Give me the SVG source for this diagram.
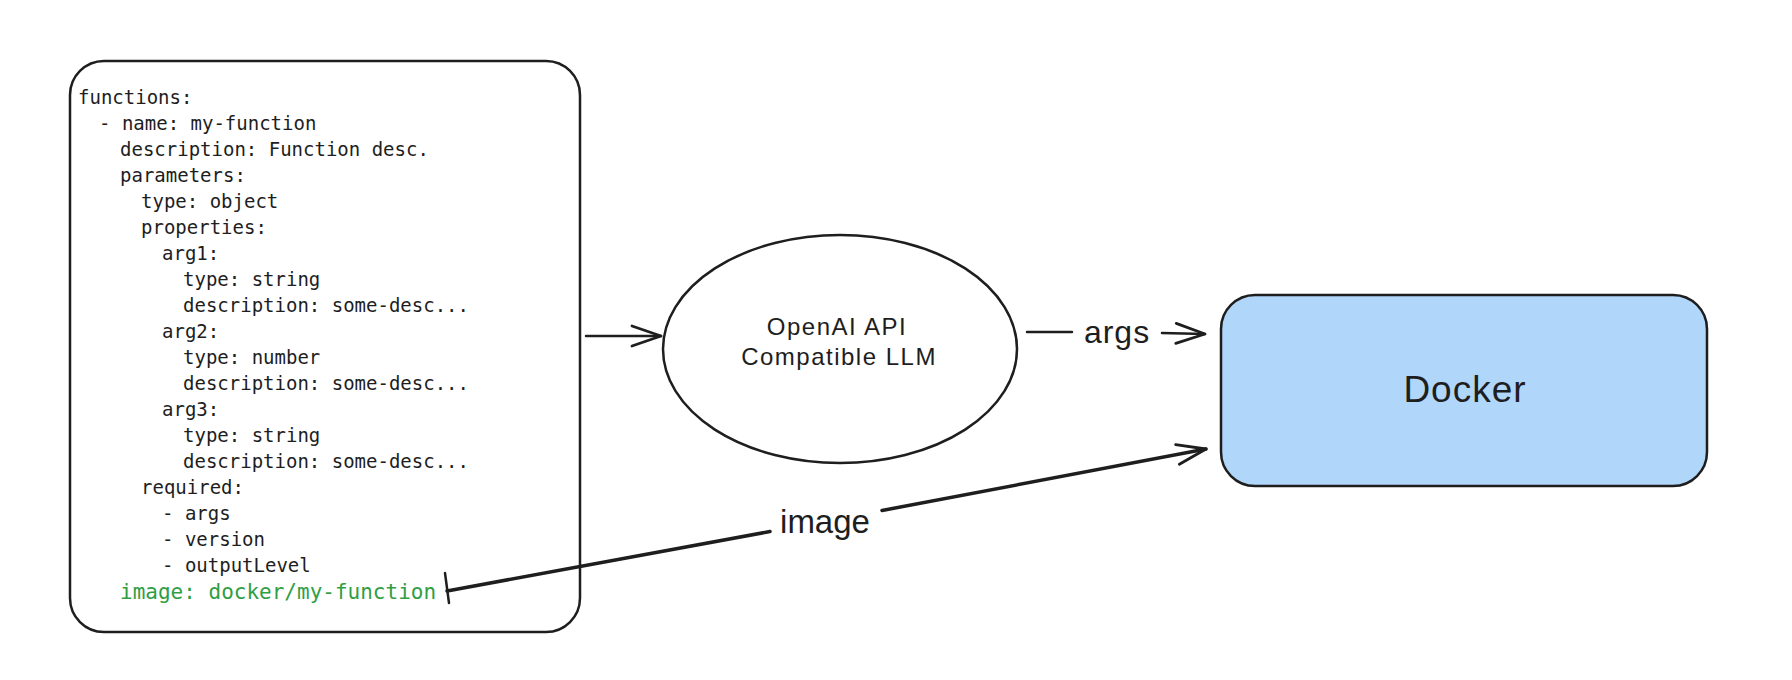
<svg xmlns="http://www.w3.org/2000/svg" width="1792" height="680" viewBox="0 0 1792 680">
<style>
.code{font-family:"DejaVu Sans Mono","Liberation Mono",monospace;font-size:19px;fill:#1e1e1e}
.green{fill:#2f9e44;font-size:21px}
.hand{font-family:"Liberation Sans",Arial,sans-serif;fill:#1e1e1e;text-anchor:middle}
.edge{fill:none;stroke:#1e1e1e;stroke-width:2.5;stroke-linecap:round;stroke-linejoin:round}
.shape{stroke:#1e1e1e;stroke-width:2.5}
</style>
<defs>
<marker id="arr" markerUnits="userSpaceOnUse" markerWidth="50" markerHeight="40" viewBox="-40 -20 50 40" refX="0" refY="0" orient="auto">
<path d="M -29 -10 L 0 0 L -29 10" fill="none" stroke="#1e1e1e" stroke-width="2.8" stroke-linecap="round" stroke-linejoin="round"/>
</marker>
</defs>
<rect width="1792" height="680" fill="#ffffff"/>
<g id="yaml">
<rect class="shape" x="70" y="61" width="510" height="571" rx="34" fill="#ffffff"/>
<text class="code" x="78" y="104">functions:</text>
<text class="code" x="99" y="130">- name: my-function</text>
<text class="code" x="120" y="156">description: Function desc.</text>
<text class="code" x="120" y="182">parameters:</text>
<text class="code" x="141" y="208">type: object</text>
<text class="code" x="141" y="234">properties:</text>
<text class="code" x="162" y="260">arg1:</text>
<text class="code" x="183" y="286">type: string</text>
<text class="code" x="183" y="312">description: some-desc...</text>
<text class="code" x="162" y="338">arg2:</text>
<text class="code" x="183" y="364">type: number</text>
<text class="code" x="183" y="390">description: some-desc...</text>
<text class="code" x="162" y="416">arg3:</text>
<text class="code" x="183" y="442">type: string</text>
<text class="code" x="183" y="468">description: some-desc...</text>
<text class="code" x="141" y="494">required:</text>
<text class="code" x="162" y="520">- args</text>
<text class="code" x="162" y="546">- version</text>
<text class="code" x="162" y="572">- outputLevel</text>
<text class="code green" x="120" y="599">image: docker/my-function</text>
</g>
<g id="llm">
<ellipse class="shape" cx="840" cy="349" rx="177" ry="114" fill="#ffffff"/>
<text class="hand" x="837" y="335" font-size="24" letter-spacing="1.5">OpenAI API</text>
<text class="hand" x="839" y="365" font-size="24" letter-spacing="1.5">Compatible LLM</text>
</g>
<g id="docker">
<rect class="shape" x="1221" y="295" width="486" height="191" rx="34" fill="#b0d6fa"/>
<text class="hand" x="1465" y="402" font-size="37" letter-spacing="1">Docker</text>
</g>
<g id="connectors">
<path class="edge" d="M 586 336 L 661 336" marker-end="url(#arr)"/>
<path class="edge" d="M 1027 332 L 1072 332"/>
<path class="edge" d="M 1162 333 L 1205 334" marker-end="url(#arr)"/>
<text class="hand" x="1117" y="343" font-size="32" letter-spacing="1">args</text>
<path class="edge" style="stroke-width:3.5" d="M 447 591 L 770 531.5"/>
<path class="edge" style="stroke-width:3.5" d="M 882 510.5 L 1206 449" marker-end="url(#arr)"/>
<path class="edge" d="M 445 573 L 449 603"/>
<text class="hand" x="825" y="533" font-size="33">image</text>
</g>
</svg>
